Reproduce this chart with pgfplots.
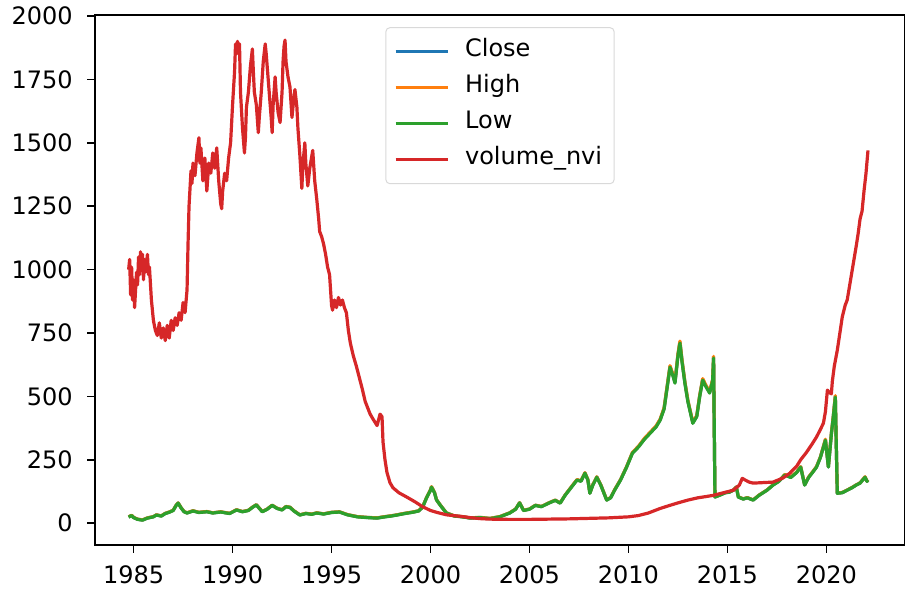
\documentclass[border=0pt]{standalone}
\usepackage{pgfplots}
\pgfplotsset{compat=1.18}
\usepackage{pgfplotstable}
\usepackage{fontspec}
\setmainfont{DejaVu Sans}
\definecolor{c0}{HTML}{1F77B4}
\definecolor{c1}{HTML}{FF7F0E}
\definecolor{c2}{HTML}{2CA02C}
\definecolor{c3}{HTML}{D62728}

\pgfplotstableread{
t close high low
1984.75 24.5 25 24
1984.9 30.5 31 30
1985.0 22.5 23 22
1985.2 15.5 16 15
1985.45 12.5 13 12
1985.7 20.5 21 20
1986.0 25.5 26 25
1986.15 32.5 33 32
1986.4 28.5 29 28
1986.6 38.5 39 38
1986.8 43.5 44 43
1987.0 50.5 51 50
1987.15 70.5 71 70
1987.25 79.5 80 79
1987.4 60.5 61 60
1987.55 45.5 46 45
1987.7 40.5 41 40
1988.0 48.5 49 48
1988.3 42.5 43 42
1988.7 45.5 46 45
1989.0 40.5 41 40
1989.4 44.5 45 44
1989.85 38.5 39 38
1990.2 52.5 53 52
1990.5 45.5 46 45
1990.8 50.5 51 50
1991.0 62.5 63 62
1991.2 72.5 73 72
1991.5 45.5 46 45
1991.75 55.5 56 55
1992.0 70.5 71 70
1992.25 58.5 59 58
1992.5 52.5 53 52
1992.7 65.5 66 65
1992.9 62.5 63 62
1993.1 48.5 49 48
1993.4 32.5 33 32
1993.7 38.5 39 38
1994.0 35.5 36 35
1994.25 40.5 41 40
1994.6 36.5 37 36
1995.0 42.5 43 42
1995.4 44.5 45 44
1995.8 33.5 34 33
1996.3 25.5 26 25
1996.8 22.5 23 22
1997.3 20.5 21 20
1997.7 25.5 26 25
1998.0 28.5 29 28
1998.3 32.5 33 32
1998.7 38.5 39 38
1999.1 43.5 44 43
1999.4 48.5 49 48
1999.6 63.5 64 63
1999.8 100.5 101 100
2000.0 131 132 130
2000.05 143 144 142
2000.2 121 122 120
2000.3 92.5 93 92
2000.5 70.5 71 70
2000.8 40.5 41 40
2001.2 28.5 29 28
2001.6 25.5 26 25
2002.0 20.5 21 20
2002.5 22.5 23 22
2003.0 18.5 19 18
2003.5 25.5 26 25
2004.0 40.5 41 40
2004.3 55.5 56 55
2004.5 80.5 81 80
2004.7 50.5 51 50
2005.0 55.5 56 55
2005.3 70.5 71 70
2005.6 65.5 66 65
2006.0 80.5 81 80
2006.3 90.5 91 90
2006.55 79.5 80 79
2006.8 110.5 111 110
2007.1 141 142 140
2007.4 171 172 170
2007.6 166 167 165
2007.8 198 199 197
2007.95 171 172 170
2008.05 118.5 119 118
2008.2 151 152 150
2008.4 182 183 181
2008.6 151 152 150
2008.9 91.5 92 91
2009.1 100.5 101 100
2009.3 131 132 130
2009.6 171 172 170
2009.9 221 222 220
2010.2 277 279 276
2010.5 301 303 300
2010.8 332 334 330
2011.1 357 359 355
2011.4 382 384 380
2011.6 408 410 406
2011.8 452 455 450
2012.0 563 566 560
2012.1 618 621 615
2012.25 583 586 580
2012.35 555 558 552
2012.5 663 667 660
2012.6 714 718 710
2012.7 643 647 640
2012.85 555 558 552
2013.0 482 485 480
2013.25 396 398 394
2013.45 422 424 420
2013.6 502 505 500
2013.75 567 570 564
2013.9 543 546 540
2014.1 516 518 513
2014.25 563 566 560
2014.3 654 658 651
2014.33 402 404 400
2014.37 103.5 104 103
2014.6 110.5 111 110
2014.9 120.5 121 120
2015.1 122.5 123 122
2015.3 130.5 131 130
2015.45 142.5 143 142
2015.55 103.5 104 103
2015.8 95.5 96 95
2016.0 100.5 101 100
2016.3 91.5 92 91
2016.6 110.5 111 110
2017.0 130.5 131 130
2017.3 150.5 151 150
2017.6 165.5 166 165
2017.9 191 192 190
2018.2 181 182 180
2018.5 201 202 200
2018.7 222 223 221
2018.9 151 152 150
2019.1 181 182 180
2019.3 201 202 200
2019.5 222 223 221
2019.7 261 262 260
2019.95 329 331 327
2020.1 222 223 221
2020.25 352 354 350
2020.35 422 424 420
2020.45 500 503 497
2020.5 302 303 300
2020.55 118.5 119 118
2020.8 120.5 121 120
2021.05 130.5 131 130
2021.3 140.5 141 140
2021.5 150.5 151 150
2021.7 158.5 159 158
2021.95 182 183 181
2022.05 165.5 166 165
2022.1 170.5 171 170
}\prices

\pgfplotstableread{
t v
1984.75 1000
1984.8 1040
1984.85 900
1984.9 1010
1984.95 880
1985.0 960
1985.05 850
1985.1 920
1985.15 990
1985.2 940
1985.25 1050
1985.3 980
1985.35 1070
1985.4 1000
1985.45 1060
1985.5 960
1985.55 1040
1985.6 990
1985.7 1060
1985.75 980
1985.8 1010
1985.9 880
1986.0 800
1986.1 760
1986.2 740
1986.3 790
1986.4 730
1986.5 770
1986.6 720
1986.7 780
1986.8 730
1986.9 800
1987.0 760
1987.1 810
1987.2 780
1987.3 830
1987.4 800
1987.5 870
1987.6 830
1987.7 920
1987.75 1100
1987.8 1250
1987.85 1320
1987.9 1390
1987.95 1340
1988.0 1420
1988.1 1370
1988.2 1460
1988.3 1520
1988.35 1420
1988.4 1480
1988.5 1350
1988.6 1440
1988.7 1310
1988.8 1420
1988.9 1380
1989.0 1460
1989.1 1400
1989.2 1480
1989.3 1350
1989.4 1260
1989.45 1240
1989.5 1310
1989.6 1380
1989.7 1350
1989.8 1440
1989.9 1500
1990.0 1650
1990.1 1780
1990.15 1890
1990.2 1850
1990.25 1900
1990.3 1860
1990.35 1890
1990.4 1700
1990.5 1560
1990.6 1460
1990.65 1520
1990.7 1640
1990.8 1700
1990.9 1800
1991.0 1870
1991.05 1780
1991.1 1700
1991.2 1650
1991.3 1540
1991.35 1600
1991.45 1700
1991.55 1820
1991.65 1890
1991.7 1850
1991.75 1800
1991.85 1700
1991.95 1600
1992.0 1540
1992.05 1650
1992.15 1760
1992.2 1700
1992.3 1620
1992.4 1580
1992.5 1700
1992.55 1820
1992.6 1880
1992.65 1905
1992.7 1820
1992.8 1760
1992.9 1720
1993.0 1600
1993.1 1680
1993.15 1710
1993.25 1640
1993.3 1560
1993.4 1450
1993.5 1320
1993.55 1410
1993.65 1500
1993.7 1420
1993.8 1330
1993.9 1400
1994.05 1470
1994.15 1350
1994.25 1280
1994.35 1200
1994.4 1150
1994.5 1130
1994.6 1100
1994.7 1060
1994.8 1010
1994.9 980
1995.0 860
1995.05 840
1995.15 880
1995.25 850
1995.35 890
1995.45 860
1995.55 880
1995.65 850
1995.75 830
1995.85 760
1995.95 710
1996.1 660
1996.25 620
1996.4 575
1996.55 530
1996.7 480
1996.8 460
1996.95 430
1997.1 410
1997.3 385
1997.45 430
1997.55 420
1997.6 320
1997.7 250
1997.8 200
1997.95 160
1998.1 140
1998.4 120
1998.8 103
1999.2 85
1999.6 65
2000.0 50
2000.3 43
2000.8 33
2001.5 27
2002.0 22
2002.5 18
2003.0 16
2004.0 15
2005.0 15
2006.0 16
2007.0 17
2008.0 19
2009.0 21
2010.0 25
2010.5 30
2011.0 40
2011.6 58
2012.0 68
2012.5 80
2013.0 91
2013.5 100
2014.0 106
2014.3 110
2014.8 120
2015.3 130
2015.6 150
2015.75 177
2015.9 170
2016.1 162
2016.3 158
2016.8 160
2017.3 162
2017.8 178
2018.15 197
2018.5 225
2018.7 250
2019.0 280
2019.3 315
2019.5 340
2019.7 370
2019.85 395
2019.95 440
2020.05 525
2020.15 515
2020.25 510
2020.3 560
2020.4 620
2020.55 682
2020.7 760
2020.8 813
2020.95 860
2021.05 880
2021.2 950
2021.35 1020
2021.5 1090
2021.6 1140
2021.7 1200
2021.8 1230
2021.9 1310
2022.0 1380
2022.1 1470
}\nvi

\begin{document}
\begin{tikzpicture}
\begin{axis}[
  name=ax,
  scale only axis,
  width=405pt, height=265pt,
  xmin=1983.05, xmax=2023.97,
  ymin=-86, ymax=2004,
  xtick={1985,1990,...,2020},
  ytick={0,250,...,2000},
  /pgf/number format/1000 sep={},
  /pgf/number format/assume math mode=true,
  tick label style={font=\fontsize{12}{14}\selectfont},
  tick align=outside,
  major tick length=4pt,
  tick style={black, line width=0.8pt},
  axis line style={black, line width=0.8pt},
  xtick pos=bottom, ytick pos=left,
  xticklabel style={anchor=north, inner sep=0pt, yshift=-6pt},
  yticklabel style={anchor=east, inner sep=0pt, xshift=-7pt},
  every axis plot/.append style={line width=1.6pt, line join=round},
  legend cell align=left,
  legend image code/.code={\draw[#1] (0pt,0pt) -- (26pt,0pt);},
  legend style={at={(0.5,0.977)}, anchor=north,
    draw=black!15, line width=0.5pt, rounded corners=2pt,
    fill=white, fill opacity=0.8, text opacity=1,
    font=\fontsize{12}{14}\selectfont,
    inner xsep=4pt, inner ysep=5pt, row sep=4pt, column sep=6pt,
    nodes={inner sep=2pt, text height=0.75em, text depth=0.25em}},
]
\addplot[c0] table[x=t, y=close] {\prices};
\addlegendentry{Close}
\addplot[c1] table[x=t, y=high] {\prices};
\addlegendentry{High}
\addplot[c2] table[x=t, y=low] {\prices};
\addlegendentry{Low}
\addplot[c3] table[x=t, y=v] {\nvi};
\addlegendentry{volume\_nvi}
\end{axis}
\pgfresetboundingbox
\path[use as bounding box] ([shift={(-47.5pt,-23.5pt)}]ax.south west) rectangle ([shift={(0pt,7.5pt)}]ax.north east);
\end{tikzpicture}
\end{document}
